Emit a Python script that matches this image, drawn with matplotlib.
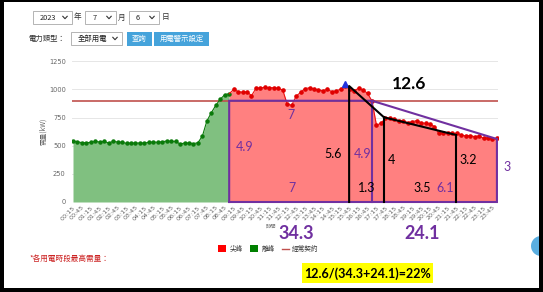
import matplotlib
matplotlib.use("Agg")
import matplotlib.pyplot as plt
from matplotlib.patches import Rectangle, Ellipse

plt.rcParams['font.family'] = ['DejaVu Sans', 'Noto Sans CJK TC']

W, H = 543, 292

# ---------------- data ----------------
# 15-minute demand readings (kW), 00:15 ... 24:00
offpeak_demand = [542, 536, 527, 527, 530, 539, 533, 539, 524, 539, 533, 530,
                  521, 524, 524, 524, 524, 530, 533, 530, 536, 542, 539, 539,
                  516, 524, 524, 519, 527, 587, 720, 794, 859, 913, 954, 962]
peak_demand = [1000, 982, 975, 980, 945, 1010, 1015, 1018, 1016, 1016, 1010, 996,
               870, 860, 940, 975, 1008, 1015, 1005, 996, 990, 1000, 982, 988,
               1003, 1035, 1000, 990, 1010, 996, 966, 898, 684, 699, 744, 744,
               735, 723, 723, 705, 714, 723, 705, 699, 693, 670, 610, 616,
               610, 610, 610, 596, 587, 590, 581, 587, 566, 572, 560, 566]
contract_kw = 900
peak_index = 61  # highest point (blue marker)

tick_labels = ["00:15", "00:45", "01:15", "01:45", "02:15", "02:45", "03:15", "03:45",
               "04:15", "04:45", "05:15", "05:45", "06:15", "06:45", "07:15", "07:45",
               "08:15", "08:45", "09:15", "09:45", "10:15", "10:45", "11:15", "11:45",
               "12:15", "12:45", "13:15", "13:45", "14:15", "14:45", "15:15", "15:45",
               "16:15", "16:45", "17:15", "17:45", "18:15", "18:45", "19:15", "19:45",
               "20:15", "20:45", "21:15", "21:45", "22:15", "22:45", "23:15", "23:45"]
y_ticks = [0, 250, 500, 750, 1000, 1250]

# hand-drawn annotation shapes (hours, kW)
purple_outline_x = [9.0, 9.0, 17.0, 24.0, 24.0, 9.0]
purple_outline_y = [0, 900, 900, 560, 0, 0]
purple_divider_x = [17.0, 17.0]
purple_divider_y = [900, 0]
black_line_x = [15.72, 15.72, 17.67, 21.71]
black_line_y = [0, 1031, 753, 596]
black_vert1_x = [17.67, 17.67]
black_vert1_y = [753, 0]
black_vert2_x = [21.71, 21.71]
black_vert2_y = [596, 0]

# annotation labels: (text, hour, kW, colour, size, bold)
PURPLE = '#7030a0'
annotations = [
    ("12.6", 19.07, 1049, 'black', 12.5, True),
    ("34.3", 12.75, -284, PURPLE, 13, True),
    ("24.1", 19.80, -284, PURPLE, 13, True),
    ("7", 12.46, 773, PURPLE, 9, False),
    ("4.9", 9.89, 489, PURPLE, 9, False),
    ("5.6", 14.82, 427, 'black', 9, False),
    ("4.9", 16.50, 427, PURPLE, 9, False),
    ("4", 18.12, 373, 'black', 9, False),
    ("3.2", 22.38, 373, 'black', 9, False),
    ("3", 24.56, 311, PURPLE, 9, False),
    ("7", 12.52, 124, PURPLE, 9, False),
    ("1.3", 16.72, 124, 'black', 9, False),
    ("3.5", 19.80, 124, 'black', 9, False),
    ("6.1", 21.09, 124, PURPLE, 9, False),
]
formula_text = "12.6/(34.3+24.1)=22%"

# ---------------- figure ----------------
fig = plt.figure(figsize=(W / 100, H / 100), dpi=100)
fig.patch.set_facecolor('white')

ax = fig.add_axes([72 / W, (H - 202) / H, 426 / W, (202 - 60.25) / H])
ax.set_xlim(0.194, 24.06)
ax.set_ylim(0, 1260)
for s in ax.spines.values():
    s.set_visible(False)
ax.set_axisbelow(True)
ax.grid(axis='y', color='#e6e6e6', lw=0.7)
ax.set_yticks(y_ticks)
ax.set_yticklabels([str(v) for v in y_ticks])
tick_pos = [0.25 + 0.5 * k for k in range(len(tick_labels))]
ax.set_xticks(tick_pos)
ax.set_xticklabels(tick_labels, rotation=45, ha='right', va='top', rotation_mode='anchor')
ax.tick_params(axis='x', length=0, labelsize=4.6, colors='#666666', pad=2)
ax.tick_params(axis='y', length=0, labelsize=4.8, colors='#666666', pad=4.5)
ax.set_ylabel("需量(kW)", fontsize=4.8, color='#666666', labelpad=1,
              family=['Noto Sans CJK TC', 'DejaVu Sans'])

n_off = len(offpeak_demand)
hours_off = [0.25 * (k + 1) for k in range(n_off)]
hours_peak = [0.25 * (k + 1) for k in range(n_off, n_off + len(peak_demand))]

# off-peak (green)
ax.fill_between(hours_off, offpeak_demand, 0, color='#80c080', lw=0, zorder=1)
ax.plot(hours_off, offpeak_demand, color='#0a7a0a', lw=0.8, marker='o', ms=2.2,
        mec='#0a7a0a', mfc='#0a7a0a', zorder=3)
# peak (red)
fill_x = [hours_off[-1]] + hours_peak
fill_y = [offpeak_demand[-1]] + peak_demand
ax.fill_between(fill_x, fill_y, 0, color='#ff8080', lw=0, zorder=1)
ax.plot(fill_x, fill_y, color='#ee1111', lw=0.8, zorder=3)
ax.plot(hours_peak, peak_demand, ls='none', marker='o', ms=2.3, mec='#e00000',
        mfc='#e00000', zorder=3)
ax.plot([hours_peak[peak_index - n_off]], [peak_demand[peak_index - n_off] + 10],
        ls='none', marker='^', ms=4.5, color='#2233dd', zorder=4)

# contract line
ax.axhline(contract_kw, color='#c0504d', lw=1.2, zorder=2)

# annotation shapes
ax.plot(purple_outline_x, purple_outline_y, color=PURPLE, lw=1.5, zorder=5,
        clip_on=False, solid_joinstyle='miter')
ax.plot(purple_divider_x, purple_divider_y, color=PURPLE, lw=1.5, zorder=5, clip_on=False)
ax.plot(black_line_x, black_line_y, color='black', lw=1.5, zorder=6, clip_on=False)
ax.plot(black_vert1_x, black_vert1_y, color='black', lw=1.5, zorder=6, clip_on=False)
ax.plot(black_vert2_x, black_vert2_y, color='black', lw=1.5, zorder=6, clip_on=False)

for txt, hx, ky, col, fs, bold in annotations:
    ax.text(hx, ky, txt, color=col, fontsize=fs, ha='center', va='center',
            fontweight='bold' if bold else 'normal', family=['Lato', 'DejaVu Sans'],
            clip_on=False, zorder=8)

# ---------------- overlay (page UI) in pixel coords ----------------
ov = fig.add_axes([0, 0, 1, 1], zorder=-1)
ov.set_xlim(0, W)
ov.set_ylim(H, 0)
ov.axis('off')
ov.patch.set_alpha(0)
ov2 = fig.add_axes([0, 0, 1, 1], zorder=10)
ov2.set_xlim(0, W)
ov2.set_ylim(H, 0)
ov2.axis('off')
ov2.patch.set_alpha(0)

CJK = ['Noto Sans CJK TC', 'DejaVu Sans']


def dropdown(x0, x1, y0, y1, label, lx):
    ov.add_patch(Rectangle((x0, y0), x1 - x0, y1 - y0, facecolor='white',
                           edgecolor='#a8a8a8', lw=0.6))
    ov.text(lx, (y0 + y1) / 2, label, fontsize=5.3, ha='left', va='center',
            color='#222222', family=CJK)
    cx, cy = x1 - 7, (y0 + y1) / 2
    ov.plot([cx - 2.2, cx, cx + 2.2], [cy - 1.2, cy + 1.2, cy - 1.2], color='#333333', lw=0.8)


dropdown(33, 72, 11, 24, "2023", 40)
ov.text(77, 17.5, "年", fontsize=5.5, ha='center', va='center', color='#333333', family=CJK)
dropdown(85, 116, 11, 24, "7", 93)
ov.text(121.5, 17.5, "月", fontsize=5.5, ha='center', va='center', color='#333333', family=CJK)
dropdown(129, 159, 11, 24, "6", 136)
ov.text(165.5, 17.5, "日", fontsize=5.5, ha='center', va='center', color='#333333', family=CJK)

ov.text(28, 38.5, "電力類型：", fontsize=5.3, ha='left', va='center', color='#333333', family=CJK)
dropdown(71, 122, 32, 45, "全部用電", 78)
ov.add_patch(Rectangle((127, 32), 25, 14, facecolor='#45a3db', edgecolor='none'))
ov.text(139.5, 39, "查詢", fontsize=5.3, ha='center', va='center', color='white', family=CJK)
ov.add_patch(Rectangle((154, 32), 55, 14, facecolor='#45a3db', edgecolor='none'))
ov.text(181.5, 39, "用電警示設定", fontsize=5.3, ha='center', va='center', color='white', family=CJK)

# x-axis title peeking out left of 34.3
ov.text(276, 226.5, "時間", fontsize=3.8, ha='right', va='center', color='#777777', family=CJK)

# legend
ov.add_patch(Rectangle((218, 245), 8, 7, facecolor='#ff0000', edgecolor='none'))
ov.text(230, 248.5, "尖峰", fontsize=4.8, ha='left', va='center', color='#333333', family=CJK)
ov.add_patch(Rectangle((250, 245), 8, 7, facecolor='#008000', edgecolor='none'))
ov.text(262, 248.5, "離峰", fontsize=4.8, ha='left', va='center', color='#333333', family=CJK)
ov.plot([282, 289], [248.5, 248.5], color='#c0504d', lw=1.0)
ov.text(292, 248.5, "經常契約", fontsize=4.8, ha='left', va='center', color='#333333', family=CJK)

ov.text(29, 259, "*各用電時段最高需量：", fontsize=5.5, ha='left', va='center',
        color='#cc2222', family=CJK)

# yellow formula box
ov2.add_patch(Rectangle((302, 263), 131, 20, facecolor='#ffff00', edgecolor='none'))
ov2.text(367.5, 273.5, formula_text, fontsize=9, fontweight='bold', ha='center',
         va='center', color='black', family=['Lato', 'DejaVu Sans'])

# partially visible blue circle at right edge
ov2.add_patch(Ellipse((541, 246), 20, 20, facecolor='#5aaee0', edgecolor='none'))

# black frame
ov2.add_patch(Rectangle((0, 0), 4, H, facecolor='black', edgecolor='none'))
ov2.add_patch(Rectangle((539, 0), 4, H, facecolor='black', edgecolor='none'))
ov2.add_patch(Rectangle((0, 0), W, 2, facecolor='black', edgecolor='none'))
ov2.add_patch(Rectangle((0, 288), W, 4, facecolor='black', edgecolor='none'))

fig.savefig("out.png", dpi=100, facecolor='white')
